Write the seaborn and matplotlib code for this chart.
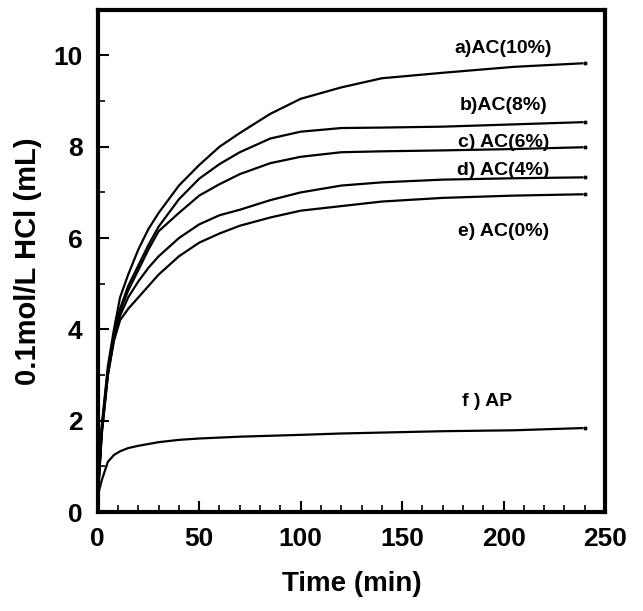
import numpy as np
import pandas as pd
import matplotlib
matplotlib.use("Agg")
import matplotlib.pyplot as plt
from matplotlib.ticker import MultipleLocator
import seaborn as sns

# time points (min)
time_min = [0, 2, 5, 8, 11, 15, 20, 25, 30, 40, 50, 60, 70, 85, 100, 120, 140, 170, 205, 240]

ac10 = [0.35, 1.9, 3.2, 4.0, 4.7, 5.2, 5.75, 6.2, 6.55, 7.15, 7.6, 8.0, 8.3, 8.72, 9.05, 9.3, 9.5, 9.62, 9.75, 9.83]
ac8 = [0.35, 1.85, 3.1, 3.9, 4.45, 4.95, 5.4, 5.85, 6.25, 6.85, 7.3, 7.62, 7.88, 8.18, 8.33, 8.41, 8.42, 8.44, 8.49, 8.54]
ac6 = [0.3, 1.8, 3.05, 3.85, 4.4, 4.85, 5.3, 5.75, 6.15, 6.55, 6.93, 7.18, 7.4, 7.64, 7.78, 7.88, 7.9, 7.92, 7.95, 7.99]
ac4 = [0.3, 1.75, 3.0, 3.8, 4.3, 4.7, 5.05, 5.35, 5.6, 6.0, 6.3, 6.5, 6.62, 6.83, 7.0, 7.15, 7.22, 7.28, 7.31, 7.33]
ac0 = [0.3, 1.7, 3.0, 3.75, 4.2, 4.45, 4.7, 4.95, 5.2, 5.6, 5.9, 6.1, 6.27, 6.45, 6.6, 6.7, 6.8, 6.88, 6.93, 6.96]
ap = [0.35, 0.7, 1.1, 1.25, 1.33, 1.4, 1.45, 1.49, 1.53, 1.58, 1.61, 1.63, 1.65, 1.67, 1.69, 1.72, 1.74, 1.77, 1.79, 1.84]

labels = ["a)AC(10%)", "b)AC(8%)", "c) AC(6%)", "d) AC(4%)", "e) AC(0%)", "f ) AP"]
series = [ac10, ac8, ac6, ac4, ac0, ap]
# where each curve label sits (time, mL)
label_x = [200, 200, 200, 200, 200, 192]
label_y = [10.15, 8.9, 8.1, 7.48, 6.15, 2.43]

df = pd.concat(
    [pd.DataFrame({"t": time_min, "v": s, "curve": lab}) for s, lab in zip(series, labels)],
    ignore_index=True,
)

sns.set_style("ticks")
plt.rcParams["font.family"] = ["Liberation Sans", "DejaVu Sans"]
plt.rcParams["font.weight"] = "bold"
plt.rcParams["text.color"] = "black"
plt.rcParams["axes.labelcolor"] = "black"
plt.rcParams["xtick.color"] = "black"
plt.rcParams["ytick.color"] = "black"

fig = plt.figure(figsize=(6.43, 6.11), dpi=100)
ax = fig.add_axes([0.152, 0.162, 0.789, 0.822])

sns.lineplot(data=df, x="t", y="v", hue="curve", palette=["black"] * 6,
             linewidth=1.6, legend=False, ax=ax)

# small dot at the end of each curve
ends = df[df["t"] == time_min[-1]]
sns.scatterplot(data=ends, x="t", y="v", color="black", s=10, legend=False, ax=ax, zorder=3)

for lab, x, y in zip(labels, label_x, label_y):
    ax.text(x, y, lab, ha="center", va="center", fontsize=14, fontweight="bold", color="black")

ax.set_xlim(0, 250)
ax.set_ylim(0, 11)
ax.xaxis.set_major_locator(MultipleLocator(50))
ax.xaxis.set_minor_locator(MultipleLocator(10))
ax.yaxis.set_major_locator(MultipleLocator(2))
ax.yaxis.set_minor_locator(MultipleLocator(1))
ax.tick_params(which="major", direction="in", length=8, width=1.5, labelsize=19, pad=11,
               colors="black")
ax.tick_params(which="minor", direction="in", length=5, width=1.2, colors="black")
for lbl in ax.get_xticklabels() + ax.get_yticklabels():
    lbl.set_fontweight("bold")
for sp in ax.spines.values():
    sp.set_linewidth(3)
    sp.set_color("black")

ax.set_xlabel("Time (min)", fontsize=20, fontweight="bold", labelpad=14)
ax.set_ylabel("0.1mol/L HCl (mL)", fontsize=21, fontweight="bold", labelpad=8)

fig.savefig("out.png", dpi=100)
